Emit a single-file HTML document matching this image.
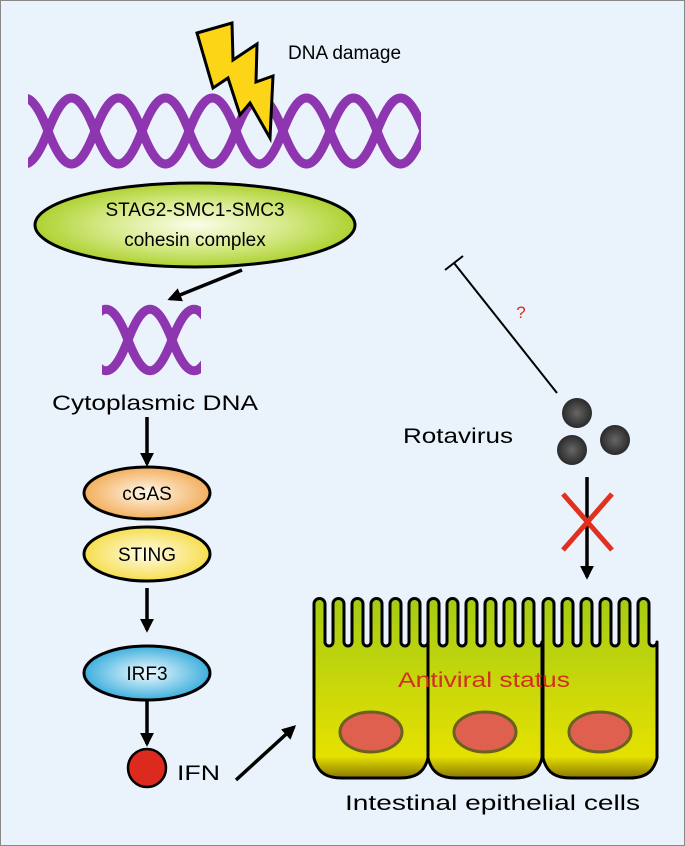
<!DOCTYPE html>
<html><head><meta charset="utf-8"><style>
html,body{margin:0;padding:0;background:#eaf3fb;}
svg{display:block;}
text{font-family:"Liberation Sans",sans-serif;}
</style></head><body>
<svg width="685" height="846" viewBox="0 0 685 846" xmlns="http://www.w3.org/2000/svg">
<defs>
<clipPath id="c1"><rect x="28" y="80" width="393" height="100"/></clipPath>
<clipPath id="c2"><rect x="102" y="295" width="99" height="85"/></clipPath>
<radialGradient id="gGreen" cx="0.5" cy="0.5" r="0.55"><stop offset="0" stop-color="#fbfde8"/><stop offset="0.5" stop-color="#d6ea8a"/><stop offset="1" stop-color="#a6cc1e"/></radialGradient>
<radialGradient id="gOr" cx="0.5" cy="0.5" r="0.6"><stop offset="0" stop-color="#fff8ec"/><stop offset="1" stop-color="#f0a040"/></radialGradient>
<radialGradient id="gYe" cx="0.5" cy="0.5" r="0.6"><stop offset="0" stop-color="#fffce8"/><stop offset="1" stop-color="#f4d830"/></radialGradient>
<radialGradient id="gBl" cx="0.5" cy="0.5" r="0.6"><stop offset="0" stop-color="#f2fbff"/><stop offset="1" stop-color="#1aa0d6"/></radialGradient>
<linearGradient id="gCell" x1="0" y1="0" x2="0" y2="1"><stop offset="0" stop-color="#a4cc14"/><stop offset="0.75" stop-color="#dcde04"/><stop offset="0.88" stop-color="#e4e000"/><stop offset="1" stop-color="#8a7800"/></linearGradient>
<radialGradient id="gVir" cx="0.5" cy="0.5" r="0.5"><stop offset="0" stop-color="#666"/><stop offset="1" stop-color="#2a2a2a"/></radialGradient>
<marker id="ah" viewBox="0 0 10 10" refX="8" refY="5" markerWidth="4" markerHeight="4" orient="auto"><path d="M0,0 L10,5 L0,10 Z" fill="#000"/></marker>
<path id="cell" d="M0,166 L0,12 a5.5,5.5 0 0 1 11,0 v38 a4,4 0 0 0 8,0 v-38 a5.5,5.5 0 0 1 11,0 v38 a4,4 0 0 0 8,0 v-38 a5.5,5.5 0 0 1 11,0 v38 a4,4 0 0 0 8,0 v-38 a5.5,5.5 0 0 1 11,0 v38 a4,4 0 0 0 8,0 v-38 a5.5,5.5 0 0 1 11,0 v38 a4,4 0 0 0 8,0 v-38 a5.5,5.5 0 0 1 11,0 v38 a4,4 0 0 0 8,0 L114,166 C110,182 100,186 86,186 L28,186 C14,186 4,182 0,166 Z" fill="url(#gCell)" stroke="#000" stroke-width="3" stroke-linejoin="round"/>
</defs>
<rect x="0.5" y="0.5" width="684" height="845" fill="#eaf3fb" stroke="#888" stroke-width="1"/>

<g clip-path="url(#c1)" fill="none" stroke="#8e35b0" stroke-width="9">
<path d="M1,131 C17.9,87 31.1,87 48,131 S78.1,175 95,131 S125.1,87 142,131 S172.1,175 189,131 S219.1,87 236,131 S266.1,175 283,131 S313.1,87 330,131 S360.1,175 377,131 S407.1,87 424,131 S454.1,175 471,131"/>
<path d="M1,131 C17.9,175 31.1,175 48,131 S78.1,87 95,131 S125.1,175 142,131 S172.1,87 189,131 S219.1,175 236,131 S266.1,87 283,131 S313.1,175 330,131 S360.1,87 377,131 S407.1,175 424,131 S454.1,87 471,131"/>
</g>
<polygon points="197,33 232,23 233,60 257,44 256,82 273,76 270,138 250,103 240,115 228,78 213,88" fill="#fcd616" stroke="#000" stroke-width="3" stroke-linejoin="miter"/>
<text x="288" y="59" font-size="19">DNA damage</text>

<ellipse cx="195" cy="225" rx="160" ry="42" fill="url(#gGreen)" stroke="#000" stroke-width="3"/>
<text x="195" y="216" font-size="19" text-anchor="middle">STAG2-SMC1-SMC3</text>
<text x="195" y="246" font-size="19" text-anchor="middle">cohesin complex</text>

<line x1="242" y1="270" x2="170" y2="299" stroke="#000" stroke-width="3.5" marker-end="url(#ah)"/>

<g clip-path="url(#c2)" fill="none" stroke="#8e35b0" stroke-width="9">
<path d="M84,340 C99.8,299 112.2,299 128,340 S156.2,381 172,340 S200.2,299 216,340"/>
<path d="M84,340 C99.8,381 112.2,381 128,340 S156.2,299 172,340 S200.2,381 216,340"/>
</g>
<text x="52" y="410" font-size="21" textLength="206" lengthAdjust="spacingAndGlyphs">Cytoplasmic DNA</text>

<line x1="147" y1="417" x2="147" y2="464" stroke="#000" stroke-width="3.5" marker-end="url(#ah)"/>
<ellipse cx="147" cy="493" rx="63" ry="26" fill="url(#gOr)" stroke="#000" stroke-width="3"/>
<text x="147" y="500" font-size="19" text-anchor="middle">cGAS</text>
<ellipse cx="147" cy="554" rx="63" ry="27" fill="url(#gYe)" stroke="#000" stroke-width="3"/>
<text x="147" y="561" font-size="19" text-anchor="middle">STING</text>
<line x1="147" y1="588" x2="147" y2="630" stroke="#000" stroke-width="3.5" marker-end="url(#ah)"/>
<ellipse cx="147" cy="673" rx="63" ry="27" fill="url(#gBl)" stroke="#000" stroke-width="3"/>
<text x="147" y="680" font-size="19" text-anchor="middle">IRF3</text>
<line x1="147" y1="700" x2="147" y2="744" stroke="#000" stroke-width="3.5" marker-end="url(#ah)"/>
<circle cx="147" cy="768" r="19" fill="#dc2a1e" stroke="#000" stroke-width="2.5"/>
<text x="177" y="780" font-size="21" textLength="43" lengthAdjust="spacingAndGlyphs">IFN</text>
<line x1="236" y1="780" x2="294" y2="727" stroke="#000" stroke-width="3.5" marker-end="url(#ah)"/>

<line x1="557" y1="393" x2="454" y2="263" stroke="#000" stroke-width="2"/>
<line x1="445" y1="270" x2="463" y2="256" stroke="#000" stroke-width="2"/>
<text x="521" y="318" font-size="17" fill="#d03020" text-anchor="middle">?</text>

<circle cx="577" cy="413" r="15" fill="url(#gVir)"/>
<circle cx="572" cy="450" r="15" fill="url(#gVir)"/>
<circle cx="615" cy="440" r="15" fill="url(#gVir)"/>
<text x="403" y="443" font-size="21" textLength="110" lengthAdjust="spacingAndGlyphs">Rotavirus</text>

<line x1="587" y1="477" x2="587" y2="577" stroke="#000" stroke-width="3.5" marker-end="url(#ah)"/>
<line x1="563" y1="494" x2="612" y2="550" stroke="#e03020" stroke-width="5"/>
<line x1="612" y1="494" x2="563" y2="550" stroke="#e03020" stroke-width="5"/>

<use href="#cell" transform="translate(314,592)"/>
<use href="#cell" transform="translate(428,592)"/>
<use href="#cell" transform="translate(543,592)"/>
<ellipse cx="371" cy="732" rx="31" ry="20" fill="#e06050" stroke="#6a6020" stroke-width="3"/>
<ellipse cx="485" cy="732" rx="31" ry="20" fill="#e06050" stroke="#6a6020" stroke-width="3"/>
<ellipse cx="600" cy="732" rx="31" ry="20" fill="#e06050" stroke="#6a6020" stroke-width="3"/>
<text x="398" y="687" font-size="21" fill="#d03020" textLength="172" lengthAdjust="spacingAndGlyphs">Antiviral status</text>
<text x="345" y="810" font-size="21" textLength="295" lengthAdjust="spacingAndGlyphs">Intestinal epithelial cells</text>
</svg>
</body></html>
